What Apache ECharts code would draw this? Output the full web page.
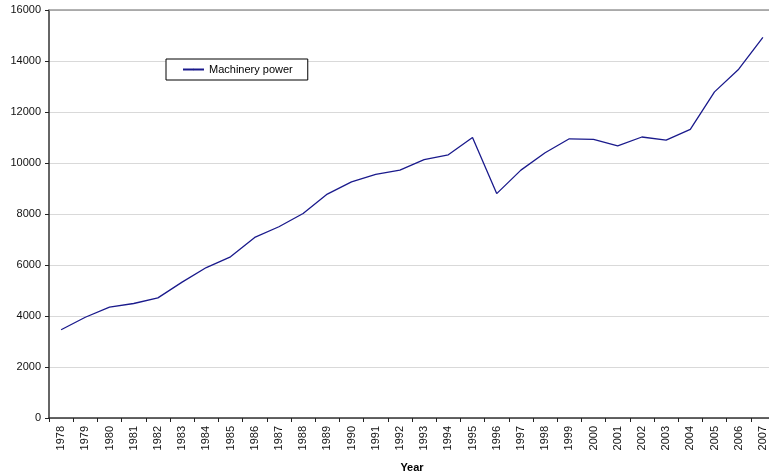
<!DOCTYPE html>
<html>
<head>
<meta charset="utf-8">
<script src="https://cdn.jsdelivr.net/npm/echarts@6/dist/echarts.min.js"></script>
<style>
html,body{margin:0;padding:0;background:#fff;}
#chart{width:769px;height:475px;}
</style>
</head>
<body>
<div id="chart"></div>
<script>
const years = ['1978','1979','1980','1981','1982','1983','1984','1985','1986','1987','1988','1989','1990','1991','1992','1993','1994','1995','1996','1997','1998','1999','2000','2001','2002','2003','2004','2005','2006','2007'];
const machineryPower = [3460,3950,4350,4490,4710,5330,5900,6320,7080,7500,8020,8780,9260,9550,9720,10130,10320,11000,8800,9720,10400,10950,10930,10670,11020,10900,11320,12790,13680,14930];
const seriesName = 'Machinery power';
const axisTitle = 'Year';
const yTicks = {min: 0, max: 16000, interval: 2000};

const chart = echarts.init(document.getElementById('chart'));
const font = 'Liberation Sans, Arial, sans-serif';
chart.setOption({
  animation: false,
  backgroundColor: '#ffffff',
  grid: {left: 49, top: 10, right: -6, bottom: 57, containLabel: false, outerBoundsMode: 'none'},
  legend: {
    data: [seriesName],
    left: 166, top: 59,
    orient: 'horizontal',
    backgroundColor: '#ffffff',
    borderColor: '#000000',
    borderWidth: 1,
    borderRadius: 0,
    padding: [5, 15, 5, 16],
    itemWidth: 21,
    itemHeight: 2,
    itemGap: 4,
    textStyle: {fontFamily: font, fontSize: 11, color: '#000'}
  },
  xAxis: [{
    type: 'category',
    data: years,
    boundaryGap: true,
    name: axisTitle,
    nameLocation: 'middle',
    nameGap: 44,
    nameTextStyle: {fontFamily: font, fontSize: 11, fontWeight: 'bold', color: '#000'},
    axisLine: {lineStyle: {color: '#333', width: 1.5}},
    axisTick: {show: true, inside: false, length: 4, alignWithLabel: false, lineStyle: {color: '#222', width: 1}},
    axisLabel: {rotate: 90, interval: 0, margin: 8, fontFamily: font, fontSize: 11, color: '#111'},
    splitLine: {show: false}
  }, {
    type: 'category',
    data: years,
    position: 'top',
    axisLine: {show: true, lineStyle: {color: '#999', width: 1.5}},
    axisTick: {show: false},
    axisLabel: {show: false},
    splitLine: {show: false}
  }],
  yAxis: {
    type: 'value',
    min: yTicks.min, max: yTicks.max, interval: yTicks.interval,
    axisLine: {show: true, lineStyle: {color: '#333', width: 1.5}},
    axisTick: {show: true, length: 4, lineStyle: {color: '#222'}},
    axisLabel: {margin: 8, fontFamily: font, fontSize: 11, color: '#111', formatter: function (v) { return String(v); }},
    splitLine: {show: true, lineStyle: {color: '#d9d9d9', width: 1.2}}
  },
  series: [{
    name: seriesName,
    type: 'line',
    data: machineryPower,
    xAxisIndex: 0,
    symbol: 'none',
    smooth: false,
    lineStyle: {color: '#1a1a8c', width: 1.3},
    itemStyle: {color: '#1a1a8c'}
  }]
});
</script>
</body>
</html>
